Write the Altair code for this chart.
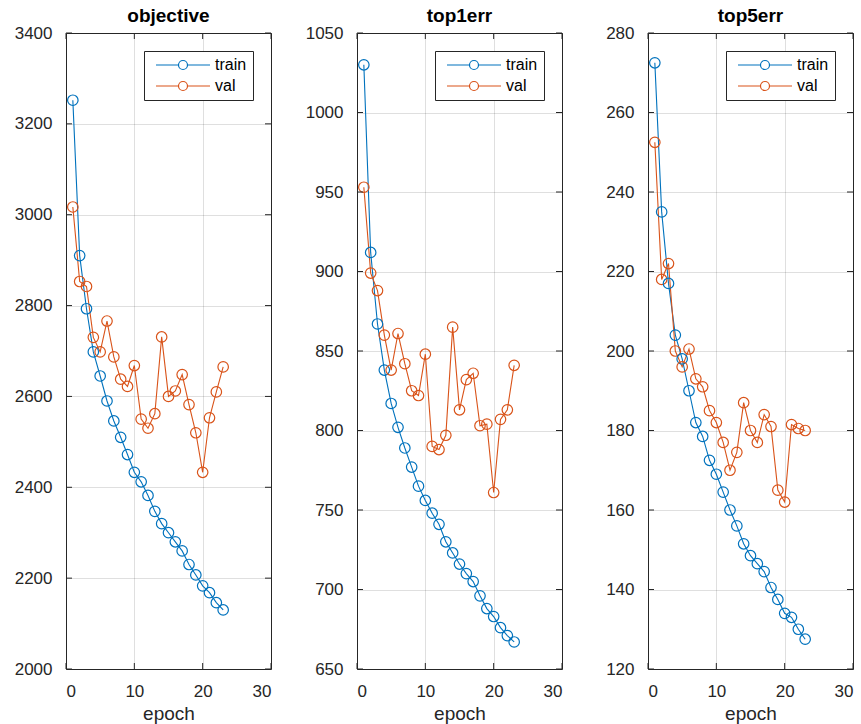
import altair as alt
import pandas as pd

# ---------------- data ----------------
epochs = list(range(1, 24))

obj_train = [3252, 2910, 2793, 2698, 2645, 2590, 2546, 2510, 2472, 2433, 2412, 2382,
             2347, 2320, 2300, 2280, 2260, 2230, 2207, 2183, 2168, 2146, 2130]
obj_val = [3017, 2853, 2842, 2730, 2698, 2766, 2687, 2638, 2622, 2668, 2550, 2530,
           2562, 2731, 2600, 2612, 2648, 2582, 2520, 2433, 2553, 2610, 2665]

top1_train = [1030, 912, 867, 838, 817, 802, 789, 777, 765, 756, 748, 741,
              730, 723, 716, 710, 705, 696, 688, 683, 676, 671, 667]
top1_val = [953, 899, 888, 860, 838, 861, 842, 825, 822, 848, 790, 788,
            797, 865, 813, 832, 836, 803, 804, 761, 807, 813, 841]

top5_train = [272.5, 235, 217, 204, 198, 190, 182, 178.5, 172.5, 169, 164.5, 160,
              156, 151.5, 148.5, 146.5, 144.5, 140.5, 137.5, 134, 133, 130, 127.5]
top5_val = [252.5, 218, 222, 200, 196, 200.5, 193, 191, 185, 182, 177, 170,
            174.5, 187, 180, 177, 184, 181, 165, 162, 181.5, 180.5, 180]

series_names = ["train", "val"]
titles = ["objective", "top1err", "top5err"]

x_ticks = [0, 10, 20, 30]
obj_ticks = [2000, 2200, 2400, 2600, 2800, 3000, 3200, 3400]
top1_ticks = [650, 700, 750, 800, 850, 900, 950, 1000, 1050]
top5_ticks = [120, 140, 160, 180, 200, 220, 240, 260, 280]

# ---------------- style ----------------
BLUE = "#0072BD"
ORANGE = "#D95319"
FRAME = "#262626"
FONT = "Liberation Sans"
W, H = 205, 636
TICK = 6
LEGEND_PATH = "M-6,0H-1M1,0H6M1,0A1,1,0,1,1,-1,0A1,1,0,1,1,1,0"


def panel(title, train, val, yticks):
    df = pd.DataFrame({
        "epoch": epochs + epochs,
        "value": train + val,
        "series": [series_names[0]] * len(train) + [series_names[1]] * len(val),
    })
    xscale = alt.Scale(domain=[x_ticks[0], x_ticks[-1]], nice=False)
    yscale = alt.Scale(domain=[yticks[0], yticks[-1]], nice=False, zero=False)
    xaxis = alt.Axis(values=x_ticks, title="epoch", grid=True, ticks=False, format="d",
                     domain=False, labelPadding=14, titlePadding=5)
    yaxis = alt.Axis(values=yticks, title=None, grid=True, ticks=False, format="d",
                     domain=False, labelPadding=14)

    legend = alt.Legend(
        title=None, orient="top-right", offset=18, padding=6,
        strokeColor=FRAME, fillColor="white", cornerRadius=0,
        symbolType=LEGEND_PATH, symbolSize=81, symbolStrokeWidth=1.2,
        symbolFillColor="transparent",
        symbolOffset=25, labelOffset=24, rowPadding=5,
        labelFont=FONT, labelFontSize=16, labelColor="black",
        labelExpr="datum.label + '\u00a0\u00a0'",
    )
    color = alt.Color("series:N",
                      scale=alt.Scale(domain=series_names, range=[BLUE, ORANGE]),
                      legend=legend)

    lines = alt.Chart(df).mark_line(
        strokeWidth=1.1,
        point=alt.OverlayMarkDef(filled=False, size=110, strokeWidth=1.2),
    ).encode(
        x=alt.X("epoch:Q", scale=xscale, axis=xaxis),
        y=alt.Y("value:Q", scale=yscale, axis=yaxis),
        color=color,
        order="epoch:Q",
    )

    ydf = pd.DataFrame({"t": yticks})
    xdf = pd.DataFrame({"t": x_ticks})
    yl = alt.Chart(ydf).mark_rule(color=FRAME, strokeWidth=1).encode(
        y=alt.Y("t:Q", scale=yscale, axis=yaxis), x=alt.value(0), x2=alt.value(TICK))
    yr = alt.Chart(ydf).mark_rule(color=FRAME, strokeWidth=1).encode(
        y=alt.Y("t:Q", scale=yscale, axis=yaxis), x=alt.value(W - TICK), x2=alt.value(W))
    xb = alt.Chart(xdf).mark_rule(color=FRAME, strokeWidth=1).encode(
        x=alt.X("t:Q", scale=xscale, axis=xaxis), y=alt.value(H), y2=alt.value(H - TICK))
    xt = alt.Chart(xdf).mark_rule(color=FRAME, strokeWidth=1).encode(
        x=alt.X("t:Q", scale=xscale, axis=xaxis), y=alt.value(0), y2=alt.value(TICK))

    return alt.layer(lines, yl, yr, xb, xt).properties(
        width=W, height=H,
        title=alt.TitleParams(title, fontSize=19, fontWeight="bold", font=FONT,
                              color="black", offset=-2),
    )


p1 = panel(titles[0], obj_train, obj_val, obj_ticks)
p2 = panel(titles[1], top1_train, top1_val, top1_ticks)
p3 = panel(titles[2], top5_train, top5_val, top5_ticks)

chart = alt.hconcat(p1, p2, p3, spacing=86, bounds="flush").resolve_scale(
    color="independent", x="independent", y="independent"
).resolve_legend(color="independent").properties(
    padding={"left": 13, "top": 6, "right": 0, "bottom": 0}
).configure_view(
    stroke=FRAME, strokeWidth=1
).configure_axis(
    labelFont=FONT, labelFontSize=17, labelColor=FRAME,
    titleFont=FONT, titleFontSize=19, titleColor=FRAME, titleFontWeight="normal",
    gridColor=FRAME, gridOpacity=0.15,
)

chart.save("out.html", embed_options={"renderer": "svg", "actions": False})
